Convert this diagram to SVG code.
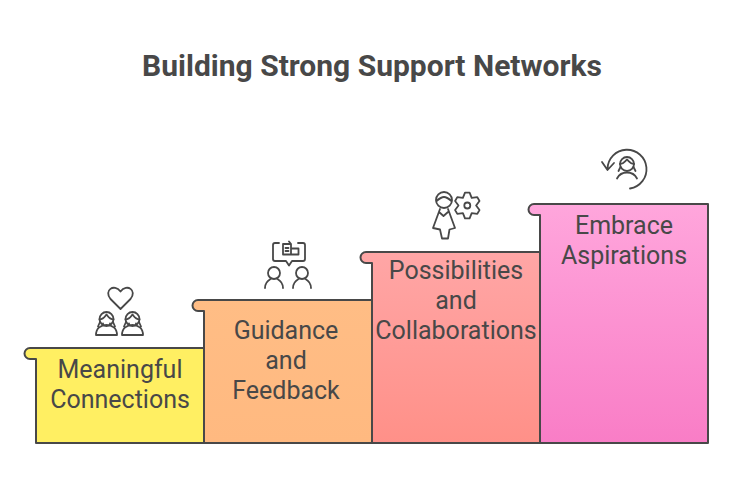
<svg xmlns="http://www.w3.org/2000/svg" width="732" height="492" viewBox="0 0 732 492">
<style>
.s{stroke:#484848;stroke-width:2;stroke-linejoin:round}
.t{font-family:Roboto,"Liberation Sans",sans-serif;font-size:25px;fill:#484848;text-anchor:middle}
.i{fill:none;stroke:#484848;stroke-width:1.8;stroke-linecap:round;stroke-linejoin:round}
</style>
<defs>
<linearGradient id="g1" x1="0" y1="0" x2="0" y2="1"><stop offset="0" stop-color="#ffef62"/><stop offset="1" stop-color="#ffef62"/></linearGradient>
<linearGradient id="g2" x1="0" y1="0" x2="0" y2="1"><stop offset="0" stop-color="#ffbd85"/><stop offset="1" stop-color="#ffb980"/></linearGradient>
<linearGradient id="g3" x1="0" y1="0" x2="0" y2="1"><stop offset="0" stop-color="#ffa6a6"/><stop offset="1" stop-color="#ff9088"/></linearGradient>
<linearGradient id="g4" x1="0" y1="0" x2="0" y2="1"><stop offset="0" stop-color="#ffa6dc"/><stop offset="1" stop-color="#f97dc6"/></linearGradient>
<g id="woman" class="i"><circle cx="0" cy="-16" r="7"/><path d="M-7-15.500C-3-15.500-1.500-18.500 0-20.500C1.500-18.500 3-15.500 7-15.500M-6.500-13L-8.500-8.500M6.500-13L8.500-8.500M-10.500 0C-10.500-7-5.500-10 0-10C5.500-10 10.500-7 10.500 0ZM-3.500-11.500V-9.500M3.500-11.500V-9.500"/></g>
<g id="man" class="i"><circle cx="0" cy="-15" r="6"/><path d="M-9 0C-9-4.500-6-7.500-3.500-9M9 0C9-4.500 6-7.500 3.500-9"/></g>
</defs>
<rect width="732" height="492" fill="#fff"/>
<text x="372" y="76" text-anchor="middle" style="font-family:Roboto,'Liberation Sans',sans-serif;font-size:30px;font-weight:700;fill:#484848">Building Strong Support Networks</text>
<g id="step1">
<path class="s" fill="url(#g1)" d="M36 443V359H30A5.500 5.500 0 0 1 30 348H204V443Z"/>
<text class="t" x="120" y="377.500">Meaningful</text><text class="t" x="120" y="407.500">Connections</text>
<g id="icon1"><path class="i" d="M120.500 309L110.500 299C103.500 290.500 114 283 120.500 291.500C127 283 137.500 290.500 130.500 299Z"/><use href="#woman" x="106.500" y="335"/><use href="#woman" x="132.500" y="335"/></g>
</g>
<g id="step2">
<path class="s" fill="url(#g2)" d="M204 443V311H198A5.500 5.500 0 0 1 198 300H372V443Z"/>
<text class="t" x="286" y="338.500">Guidance</text><text class="t" x="286" y="368.500">and</text><text class="t" x="286" y="398.500">Feedback</text>
<g id="icon2"><path class="i" d="M279 243H275Q273 243 273 245V259Q273 261 275 261H286L289 265.500L292 261H303Q305 261 305 259V245Q305 243 303 243H298M283 244H291V254.500H283ZM291 248.500H298.500V254.500H291M285.500 248H288.500M285.500 251H288.500M291 244L289 241.500"/><use href="#man" x="274" y="288"/><use href="#man" x="302" y="288"/></g>
</g>
<g id="step3">
<path class="s" fill="url(#g3)" d="M372 443V263H366A5.500 5.500 0 0 1 366 252H540V443Z"/>
<text class="t" x="456" y="278.500">Possibilities</text><text class="t" x="456" y="308.500">and</text><text class="t" x="456" y="338.500">Collaborations</text>
<g id="icon3"><circle class="i" cx="444" cy="200" r="8"/><path class="i" d="M436.500 201C440 198 442 197 444 197C446 197 448 198 451.500 201M440 209L433 228L440 229.500L442 238.500H448L449.500 229.500L455 228L448 209M439 212L443.500 216L448 212"/><circle class="i" cx="467.300" cy="205.500" r="3"/><path class="i" d="M465 192.700H469.600L471.700 197.900L477.300 197.100L479.500 201L476.100 205.500L479.500 210L477.300 213.900L471.700 213.100L469.600 218.300H465L462.900 213.100L457.300 213.900L455.100 210L458.500 205.500L455.100 201L457.300 197.100L462.900 197.900Z"/></g>
</g>
<g id="step4">
<path class="s" fill="url(#g4)" d="M540 443V215H534A5.500 5.500 0 0 1 534 204H708V443Z"/>
<text class="t" x="624" y="233.500">Embrace</text><text class="t" x="624" y="263.500">Aspirations</text>
<g id="icon4"><path class="i" d="M607.500 169A19.500 19.500 0 1 1 630 188.500M602 162L607.500 170L614 163"/><circle class="i" cx="627" cy="164" r="7"/><path class="i" d="M620 164C624 164 625 161 627 159.500C629 161 630 164 634 164M620.500 167L618.500 171M633.500 167L635.500 171M617 178.500C621 170.500 633 170.500 637 178.500"/></g>
</g>
</svg>
